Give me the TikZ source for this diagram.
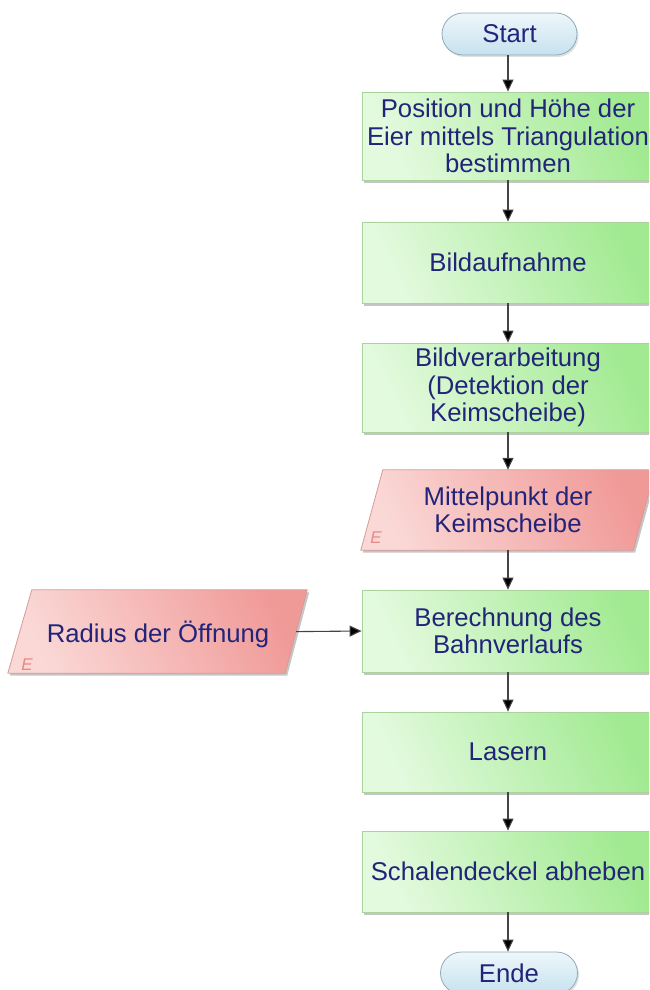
\documentclass[tikz,border=0pt]{standalone}
\usepackage{fontspec}
\setmainfont{Liberation Sans}
\usetikzlibrary{arrows.meta,shadows}
\definecolor{txt}{HTML}{22247A}
\definecolor{glight}{HTML}{E4FADF}
\definecolor{gdark}{HTML}{A2EA92}
\definecolor{gline}{HTML}{A8D49C}
\definecolor{rlight}{HTML}{FAD8D6}
\definecolor{rdark}{HTML}{F09A98}
\definecolor{rline}{HTML}{D89A98}
\definecolor{elabel}{HTML}{E88A88}
\definecolor{blight}{HTML}{EEF7FB}
\definecolor{bdark}{HTML}{C6E2EE}
\definecolor{bline}{HTML}{8FAAB8}
\definecolor{conn}{HTML}{444444}
\begin{document}
\begin{tikzpicture}[x=1pt,y=-1pt,
  lbl/.style={font=\fontsize{25.7}{27.5}\selectfont, text=txt, align=center},
  proc/.style={lbl, rectangle, draw=gline, line width=0.8pt, minimum width=292pt,
    shading=axis, left color=glight, right color=gdark, shading angle=115,
    drop shadow={shadow xshift=2pt, shadow yshift=-2.5pt, fill=black!45, opacity=0.5}},
  term/.style={lbl, rectangle, rounded corners=21pt, draw=bline, line width=0.8pt,
    minimum height=42pt, minimum width=135pt,
    shading=axis, top color=blight, bottom color=bdark,
    drop shadow={shadow xshift=1.5pt, shadow yshift=-2pt, fill=black!30, opacity=0.4}},
  iobox/.style={lbl, rectangle, inner sep=0pt},
  para/.style={draw=rline, line width=0.8pt, shading=axis, left color=rlight, right color=rdark,
    shading angle=115,
    drop shadow={shadow xshift=2pt, shadow yshift=-2.5pt, fill=black!45, opacity=0.5}},
  emark/.style={font=\fontsize{17}{17}\selectfont\itshape, text=elabel},
  arr/.style={draw=conn, line width=1.1pt, -{Triangle[length=12pt,width=11pt,fill=black]}}
]
\useasboundingbox (0,0) rectangle (649,990);
\clip (0,0) rectangle (649,990);

\node[term] (start) at (509.5,34) {Start};
\node[proc, minimum height=88pt] (b1) at (508,136) {Position und Höhe der\\Eier mittels Triangulation\\bestimmen};
\node[proc, minimum height=81pt] (b2) at (508,262.5) {Bildaufnahme};
\node[proc, minimum height=89pt] (b3) at (508,387.5) {Bildverarbeitung\\ (Detektion der\\Keimscheibe)};

% parallelogram 1
\node[iobox, minimum width=294pt, minimum height=80pt] (p1) at (508,510) {};
\path[para] (p1.south west) -- ([xshift=-22pt]p1.south east) -- (p1.north east)
  -- ([xshift=22pt]p1.north west) -- cycle;
\node[lbl] (p1t) at (p1.center) {Mittelpunkt der\\Keimscheibe};
\node[emark] (p1e) at (376,538) {E};

\node[proc, minimum height=82pt] (b4) at (508,631) {Berechnung des\\Bahnverlaufs};

% parallelogram 2
\node[iobox, minimum width=299pt, minimum height=83pt] (p2) at (157.5,631.5) {};
\path[para] (p2.south west) -- ([xshift=-22pt]p2.south east) -- (p2.north east)
  -- ([xshift=24pt]p2.north west) -- cycle;
\node[lbl] (p2t) at (158,634) {Radius der Öffnung};
\node[emark] (p2e) at (27,665) {E};

\node[proc, minimum height=80pt] (b5) at (508,752) {Lasern};
\node[proc, minimum height=81pt] (b6) at (508,871.5) {Schalendeckel abheben};
\node[term, minimum width=137pt] (ende) at (509,973) {Ende};

\draw[arr] (start.south -| b1.north) -- (b1.north);
\draw[arr] (b1) -- (b2);
\draw[arr] (b2) -- (b3);
\draw[arr] (b3.south) -- (p1.north);
\draw[arr] (p1.south) -- (b4.north);
\draw[arr] (b4) -- (b5);
\draw[arr] (b5) -- (b6);
\draw[arr] (b6.south) -- (b6.south |- ende.north);
\draw[arr, shorten <=-11pt] (p2.east) -- (b4.west);
\end{tikzpicture}
\end{document}
